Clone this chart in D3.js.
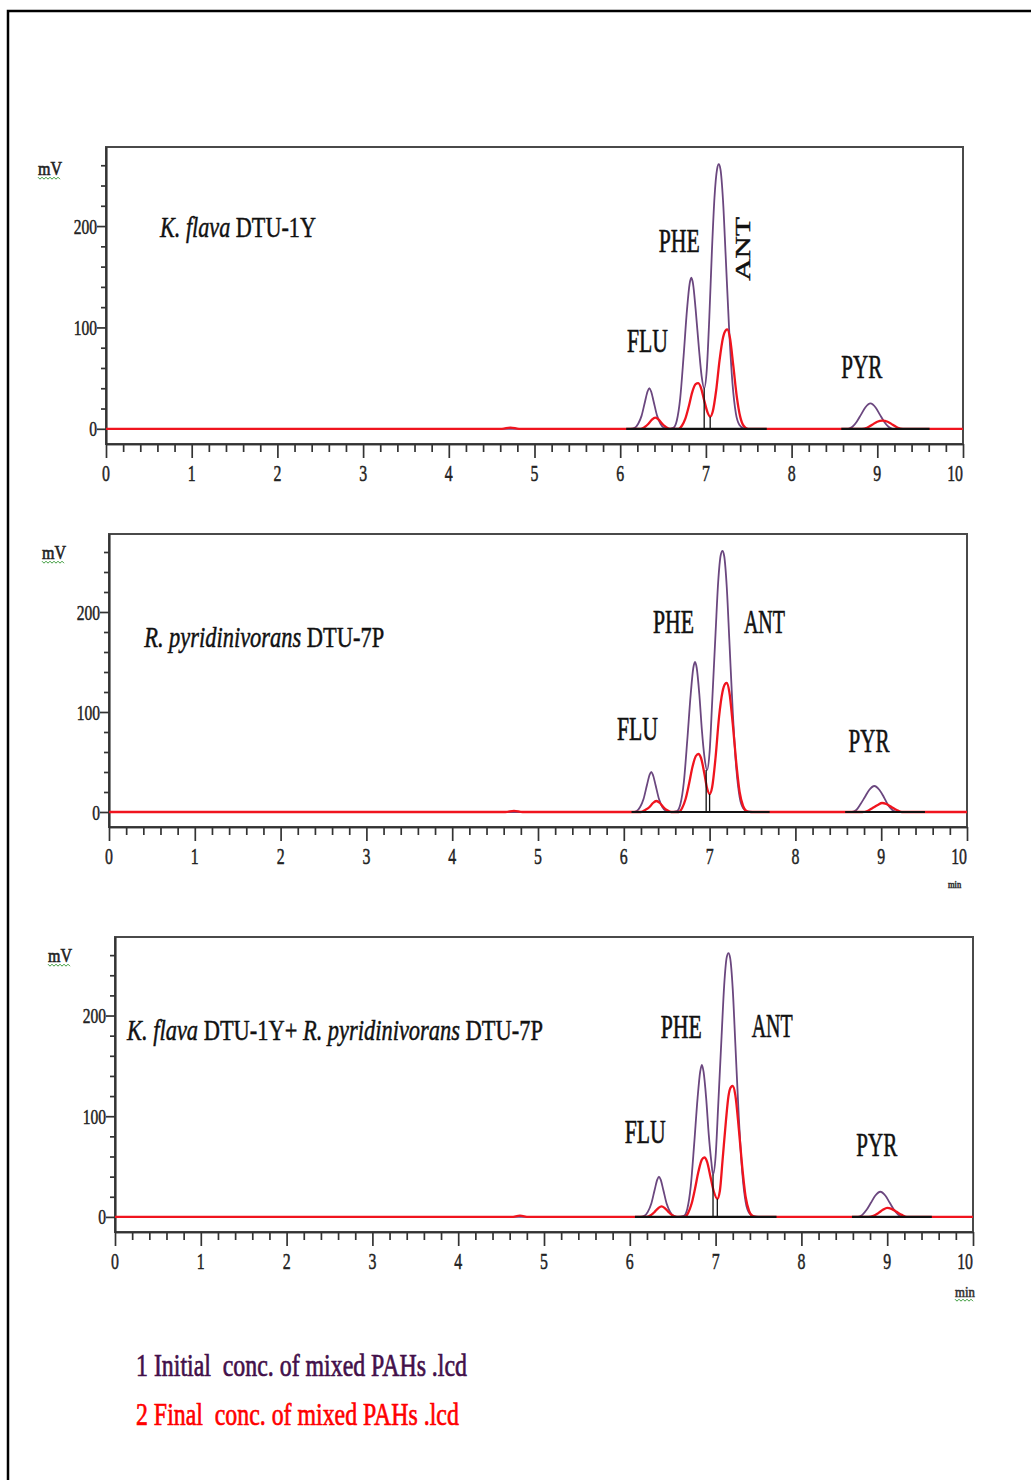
<!DOCTYPE html>
<html>
<head>
<meta charset="utf-8">
<script src="https://cdn.jsdelivr.net/npm/d3@7"></script>
<style>
  body { margin: 0; background: #fff; }
  svg { display: block; }
  text { font-family: "Liberation Serif", "Times New Roman", serif; white-space: pre; }
</style>
</head>
<body>
<svg id="chart" width="1031" height="1480"></svg>
<script>
// ---- tick labels ----
var xMajor = [0, 1, 2, 3, 4, 5, 6, 7, 8, 9, 10];
var xMinor = [0.2, 0.4, 0.6, 0.8, 1.2, 1.4, 1.6, 1.8, 2.2, 2.4, 2.6, 2.8, 3.2, 3.4, 3.6, 3.8,
              4.2, 4.4, 4.6, 4.8, 5.2, 5.4, 5.6, 5.8, 6.2, 6.4, 6.6, 6.8, 7.2, 7.4, 7.6, 7.8,
              8.2, 8.4, 8.6, 8.8, 9.2, 9.4, 9.6, 9.8];
var yMajor = [0, 100, 200];
var yMinor = [20, 40, 60, 80, 120, 140, 160, 180, 220, 240, 260];
var peakNames = ['FLU', 'PHE', 'ANT', 'PYR'];
var legendLines = ['1 Initial  conc. of mixed PAHs .lcd', '2 Final  conc. of mixed PAHs .lcd'];

// ---- chromatograms [min, mV] ----
// panel 1: K. flava DTU-1Y
var p1Initial = [[0,0],[6.12,0],[6.17,1],[6.21,5],[6.25,13],[6.29,27],[6.32,37],[6.34,40],[6.36,37],[6.39,27],[6.43,13],[6.47,5],[6.51,1],[6.56,0],
  [6.62,1],[6.66,8],[6.70,30],[6.74,72],[6.78,118],[6.81,143],[6.83,149],[6.85,143],[6.88,118],[6.92,78],[6.95,52],[6.98,40],
  [7.01,58],[7.04,110],[7.07,175],[7.10,228],[7.13,256],[7.15,261],[7.17,256],[7.20,225],[7.23,172],[7.27,100],[7.31,45],[7.35,15],[7.39,4],[7.44,0.5],[7.50,0],
  [8.66,0],[8.71,2],[8.76,7],[8.81,14],[8.86,21],[8.92,25],[8.98,21],[9.03,14],[9.08,7],[9.13,2],[9.18,0],[10,0]];
var p1Final = [[0,0],[4.62,0],[4.72,1.2],[4.82,0],[6.24,0],[6.29,2],[6.33,5],[6.37,9],[6.41,11],[6.45,9],[6.49,5],[6.53,2],[6.58,0],
  [6.68,0],[6.72,3],[6.76,10],[6.80,22],[6.84,36],[6.88,44],[6.91,45],[6.94,41],[6.98,28],[7.02,16],[7.05,12],
  [7.08,17],[7.12,38],[7.16,68],[7.20,90],[7.23,97],[7.25,98],[7.28,90],[7.32,62],[7.36,32],[7.40,12],[7.44,3],[7.49,0],
  [8.82,0],[8.88,1],[8.94,4],[9.00,7],[9.06,8],[9.12,7],[9.18,4],[9.24,1],[9.30,0],[10,0]];
var p1Baselines = [[6.07, 7.71], [8.58, 9.61]];
var p1Drops = [[6.98, 40], [7.05, 12]];

// panel 2: R. pyridinivorans DTU-7P
var p2Initial = [[0,0],[6.10,0],[6.15,1],[6.19,5],[6.23,13],[6.27,27],[6.30,37],[6.32,40],[6.34,37],[6.37,27],[6.41,13],[6.45,5],[6.49,1],[6.54,0],
  [6.62,1],[6.66,8],[6.70,30],[6.74,72],[6.78,118],[6.81,144],[6.83,150],[6.85,144],[6.88,118],[6.91,82],[6.94,55],[6.97,42],
  [7.00,60],[7.03,110],[7.07,180],[7.10,230],[7.13,257],[7.15,261],[7.17,256],[7.20,225],[7.23,172],[7.27,100],[7.31,45],[7.35,15],[7.39,4],[7.44,0.5],[7.50,0],
  [8.66,0],[8.71,2],[8.76,8],[8.81,15],[8.86,22],[8.92,26],[8.98,22],[9.03,15],[9.08,7],[9.13,2],[9.18,0],[10,0]];
var p2Final = [[0,0],[4.62,0],[4.72,1.2],[4.82,0],[6.20,0],[6.25,2],[6.30,5],[6.34,9],[6.38,11],[6.42,9],[6.46,5],[6.50,2],[6.55,0],
  [6.64,0],[6.68,4],[6.72,13],[6.76,28],[6.80,45],[6.84,56],[6.87,58],[6.90,54],[6.94,38],[6.97,24],[7.00,18],
  [7.03,25],[7.07,55],[7.11,95],[7.15,120],[7.18,128],[7.20,129],[7.23,120],[7.27,88],[7.31,50],[7.35,20],[7.39,6],[7.43,1],[7.48,0],
  [8.78,0],[8.84,1],[8.90,4],[8.96,7],[9.01,9],[9.06,8],[9.12,5],[9.18,2],[9.24,0],[10,0]];
var p2Baselines = [[6.09, 7.70], [8.58, 9.51]];
var p2Drops = [[6.96, 42], [7.00, 18]];

// panel 3: K. flava DTU-1Y + R. pyridinivorans DTU-7P
var p3Initial = [[0,0],[6.12,0],[6.17,1],[6.21,5],[6.25,13],[6.29,27],[6.32,37],[6.34,40],[6.36,37],[6.39,27],[6.43,13],[6.47,5],[6.51,1],[6.56,0],
  [6.63,1],[6.67,8],[6.71,30],[6.75,72],[6.79,118],[6.82,144],[6.84,151],[6.86,144],[6.89,118],[6.92,82],[6.95,55],[6.97,42],
  [7.00,60],[7.03,110],[7.07,180],[7.10,230],[7.13,258],[7.15,262],[7.17,257],[7.20,226],[7.23,172],[7.27,100],[7.31,45],[7.35,15],[7.39,4],[7.44,0.5],[7.50,0],
  [8.66,0],[8.71,2],[8.76,7],[8.81,14],[8.86,21],[8.92,25],[8.98,21],[9.03,14],[9.08,7],[9.13,2],[9.18,0],[10,0]];
var p3Final = [[0,0],[4.62,0],[4.72,1.2],[4.82,0],[6.20,0],[6.25,2],[6.29,5],[6.33,8.5],[6.37,10.5],[6.41,8.5],[6.45,5],[6.49,2],[6.54,0],
  [6.64,0],[6.68,4],[6.72,13],[6.76,28],[6.80,45],[6.84,57],[6.87,59],[6.90,55],[6.94,40],[6.98,25],[7.02,18],
  [7.05,26],[7.08,55],[7.12,95],[7.15,120],[7.18,129],[7.20,130],[7.23,121],[7.27,88],[7.31,50],[7.35,20],[7.39,6],[7.43,1],[7.48,0],
  [8.78,0],[8.84,1],[8.90,4],[8.95,7],[9.00,9],[9.05,8],[9.11,5],[9.17,2],[9.23,0],[10,0]];
var p3Baselines = [[6.06, 7.71], [8.59, 9.52]];
var p3Drops = [[6.97, 42], [7.02, 18]];

// ---- layout ----
var purple = '#6b477f', red = '#f0141e', axisCol = '#333';
var panels = [
  { box: [106, 147, 963, 444], initial: p1Initial, final: p1Final, baselines: p1Baselines, drops: p1Drops,
    species: [['K. flava', true], [' DTU-1Y', false]], speciesAt: [0.63, 189], speciesW: 156,
    peakAt: [[6.08, 76], [6.45, 174], [7.51, 146, true], [8.58, 50]],
    mV: [38, 175], min: null },
  { box: [109, 534, 967, 827], initial: p2Initial, final: p2Final, baselines: p2Baselines, drops: p2Drops,
    species: [['R. pyridinivorans', true], [' DTU-7P', false]], speciesAt: [0.41, 165], speciesW: 240,
    peakAt: [[5.92, 72], [6.34, 179], [7.40, 179], [8.62, 60]],
    mV: [42, 559], min: [948, 888, 10, false] },
  { box: [115, 937, 973, 1232], initial: p3Initial, final: p3Final, baselines: p3Baselines, drops: p3Drops,
    species: [['K. flava', true], [' DTU-1Y+ ', false], ['R. pyridinivorans', true], [' DTU-7P', false]], speciesAt: [0.14, 176], speciesW: 416,
    peakAt: [[5.94, 73], [6.36, 178], [7.42, 179], [8.64, 60]],
    mV: [48, 962], min: [955, 1297, 15, true] }
];

var svg = d3.select('#chart');

// outer frame
svg.append('path')
  .attr('d', 'M8,1480 L8,11 L1031,11')
  .attr('fill', 'none').attr('stroke', '#000').attr('stroke-width', 2.5);

// text squeezed horizontally like the source; fit = wanted width in px, or a plain x scale
function label(g, x, y, parts, size, fit, color, anchor, rotate, heavy) {
  var holder = g.append('g');
  var t = holder.append('text')
    .attr('font-size', size)
    .attr('fill', color || '#111')
    .attr('text-anchor', anchor || 'start');
  if (heavy) t.attr('stroke', color || '#111').attr('stroke-width', heavy);
  parts.forEach(function (p) {
    t.append('tspan').text(p[0]).attr('font-style', p[1] ? 'italic' : 'normal');
  });
  var sx = fit;
  if (fit > 2) sx = fit / t.node().getComputedTextLength();
  holder.attr('transform', 'translate(' + x + ',' + y + ') scale(' + sx + ',1)' + (rotate ? ' rotate(' + rotate + ')' : ''));
  return t;
}

function squiggle(g, x1, x2, y) {
  var pts = d3.range(x1, x2, 2).map(function (x, i) { return [x, y + (i % 2 ? 1.2 : -0.8)]; });
  g.append('path').attr('d', d3.line()(pts))
    .attr('fill', 'none').attr('stroke', '#3c9c3c').attr('stroke-width', 1);
}

panels.forEach(function (p) {
  var g = svg.append('g');
  var left = p.box[0], top = p.box[1], right = p.box[2], bottom = p.box[3];
  var x = d3.scaleLinear().domain([0, 10]).range([left, right]);
  var y = d3.scaleLinear().domain([-15, 278]).range([bottom, top]);

  // frame
  g.append('rect')
    .attr('x', left).attr('y', top).attr('width', right - left).attr('height', bottom - top)
    .attr('fill', 'none').attr('stroke', '#4a4a4a').attr('stroke-width', 2);

  // axes
  function styleAxis(sel) {
    sel.selectAll('path, line').attr('stroke', axisCol).attr('stroke-width', 1.7);
    sel.selectAll('text').remove();
  }
  g.append('g').attr('transform', 'translate(' + left + ',0)')
    .call(d3.axisLeft(y).tickValues(yMinor).tickSize(5).tickSizeOuter(0).tickFormat(''))
    .call(styleAxis);
  g.append('g').attr('transform', 'translate(' + left + ',0)')
    .call(d3.axisLeft(y).tickValues(yMajor).tickSize(9).tickSizeOuter(0).tickFormat(''))
    .call(styleAxis);
  g.append('g').attr('transform', 'translate(0,' + bottom + ')')
    .call(d3.axisBottom(x).tickValues(xMinor).tickSize(8).tickSizeOuter(0).tickFormat(''))
    .call(styleAxis);
  g.append('g').attr('transform', 'translate(0,' + bottom + ')')
    .call(d3.axisBottom(x).tickValues(xMajor).tickSize(14).tickSizeOuter(0).tickFormat(''))
    .call(styleAxis);

  yMajor.forEach(function (v) {
    label(g, left - 9, y(v) + 7.5, [[String(v), false]], 21, 0.74, '#222', 'end', 0, 0.5);
  });
  xMajor.forEach(function (v) {
    label(g, x(v), bottom + 37, [[String(v), false]], 24, 0.66, '#222', v === 10 ? 'end' : 'middle', 0, 0.5);
  });

  // traces
  var line = d3.line()
    .x(function (d) { return x(d[0]); })
    .y(function (d) { return y(d[1]); })
    .curve(d3.curveMonotoneX);
  g.append('path').datum(p.initial).attr('d', line)
    .attr('fill', 'none').attr('stroke', purple).attr('stroke-width', 1.8);
  g.append('path').datum(p.final).attr('d', line)
    .attr('fill', 'none').attr('stroke', red).attr('stroke-width', 2.3)
    .attr('stroke-linejoin', 'round');

  // integration baselines and drop lines
  g.selectAll('.base').data(p.baselines).enter().append('line')
    .attr('x1', function (d) { return x(d[0]); }).attr('x2', function (d) { return x(d[1]); })
    .attr('y1', y(0)).attr('y2', y(0))
    .attr('stroke', '#111').attr('stroke-width', 2.2);
  g.selectAll('.drop').data(p.drops).enter().append('line')
    .attr('x1', function (d) { return x(d[0]); }).attr('x2', function (d) { return x(d[0]); })
    .attr('y1', y(0)).attr('y2', function (d) { return y(d[1]); })
    .attr('stroke', '#111').attr('stroke-width', 1.3);

  // labels
  label(g, x(p.speciesAt[0]), y(p.speciesAt[1]), p.species, 30, p.speciesW, '#111', 'start', 0, 0.5);
  p.peakAt.forEach(function (pos, i) {
    if (pos[2]) label(g, x(pos[0]), y(pos[1]), [[peakNames[i], false]], 31, 0.7, '#111', 'start', -90, 0.6);
    else label(g, x(pos[0]), y(pos[1]), [[peakNames[i], false]], 33, 41, '#111', 'start', 0, 0.6);
  });

  label(g, p.mV[0], p.mV[1], [['mV', false]], 18, 24, '#222', 'start', 0, 0.6);
  squiggle(g, p.mV[0], p.mV[0] + 24, p.mV[1] + 3);
  if (p.min) {
    label(g, p.min[0], p.min[1], [['min', false]], p.min[2], 0.85, '#333', 'start', 0, 0.6);
    if (p.min[3]) squiggle(g, p.min[0], p.min[0] + 20, p.min[1] + 3);
  }
});

// legend
var legendColors = ['#43104a', '#ff0000'];
var legendWidths = [331, 323];
legendLines.forEach(function (s, i) {
  label(svg, 136, 1376 + i * 49, [[s, false]], 32, legendWidths[i], legendColors[i], 'start', 0, 0.7);
});
</script>
</body>
</html>
